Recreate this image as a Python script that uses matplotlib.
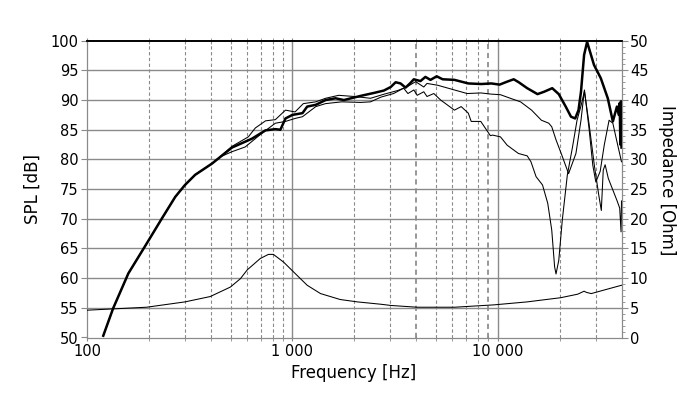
import matplotlib
matplotlib.use("Agg")
import matplotlib.pyplot as plt
from matplotlib.ticker import FixedLocator, NullFormatter, MultipleLocator

# ---------------- data ----------------
freq_on = [120, 134, 159, 195, 231, 269, 300, 336, 406, 508, 636, 740, 826, 874, 925,
           1000, 1120, 1180, 1300, 1450, 1620, 1780, 2147, 2492, 2787, 3010, 3180, 3360,
           3555, 3760, 3900, 4200, 4440, 4700, 5040, 5390, 6150, 7180, 8300, 9300, 10200,
           11100, 11950, 12640, 13900, 15600, 16800, 18400, 19800, 21400, 22700, 23800,
           24700, 25400, 26300, 27200, 27800, 29400, 31700, 34300, 36300, 38000, 38800,
           39200, 39500, 39800, 40000]
spl_on = [50.3, 54.9, 60.8, 65.8, 70.0, 73.7, 75.7, 77.4, 79.3, 82.0, 83.5, 84.9, 85.1, 85.0, 86.9,
          87.5, 87.8, 88.9, 89.2, 90.0, 90.3, 90.0, 90.7, 91.2, 91.6, 92.2, 93.0, 92.8,
          92.1, 92.9, 93.5, 93.2, 93.9, 93.4, 94.0, 93.5, 93.4, 92.8, 92.7, 92.8, 92.6,
          93.1, 93.5, 93.0, 92.0, 91.0, 91.4, 92.0, 91.0, 88.9, 87.2, 86.9,
          88.3, 91.4, 97.6, 99.8, 98.7, 95.9, 93.7, 90.3, 86.4, 88.9, 87.5,
          89.5, 82.5, 89.8, 82.0]

freq_a = [120, 134, 159, 195, 231, 269, 300, 336, 406, 508, 610, 660, 740, 826, 925,
          1030, 1130, 1300, 1450, 1680, 2000, 2400, 2800, 3250, 3600, 3980, 4360, 4520,
          5090, 6150, 7090, 8260, 9300, 10300, 11500, 12900, 14600, 16300, 17700, 18300,
          19200, 20500, 22100, 24000, 25400, 26400, 27800, 29000, 30000, 31500, 33000,
          34800, 36300, 38000, 40000]
spl_a = [50.3, 54.9, 60.8, 65.8, 70.0, 73.7, 75.7, 77.4, 79.3, 82.2, 83.8, 85.3, 86.5, 86.7, 88.3,
         88.0, 89.4, 89.7, 90.3, 90.8, 90.6, 90.3, 91.0, 91.6, 92.2, 93.1, 92.2, 92.8,
         92.5, 91.7, 91.1, 91.2, 91.0, 90.9, 90.3, 89.7, 88.3, 86.6, 86.1, 85.5,
         83.3, 80.7, 77.6, 81.0, 86.6, 91.7, 85.2, 79.0, 76.2, 78.0, 82.5,
         86.6, 86.1, 83.0, 79.6]

freq_b = [120, 134, 159, 195, 231, 269, 300, 336, 406, 450, 508, 589, 710, 826, 925,
          1030, 1120, 1300, 1450, 1740, 2150, 2400, 2700, 3110, 3480, 3650, 3900, 4050,
          4360, 4520, 4880, 5270, 6150, 6630, 7180, 7420, 8260, 9200, 9420, 10300, 11100,
          12600, 13900, 14500, 15350, 16500, 17500, 18300, 18900, 19200, 19800, 20600,
          21800, 23100, 24300, 25400, 26400, 27800, 29500, 31000, 31900, 32600, 33300,
          34500, 38000, 39200, 39800, 40000]
spl_b = [50.3, 54.9, 60.8, 65.8, 70.0, 73.7, 75.7, 77.4, 79.3, 80.5, 81.3, 82.1, 84.4, 86.1, 86.4,
         86.9, 87.2, 88.9, 89.4, 89.7, 89.6, 89.7, 90.5, 91.1, 92.0, 91.1, 91.7, 90.8,
         91.4, 90.6, 91.1, 90.0, 88.3, 88.9, 87.8, 86.4, 86.4, 84.0, 84.1, 83.8, 82.4,
         81.0, 80.6, 79.6, 77.1, 75.7, 72.6, 68.1, 61.9, 60.7, 63.0, 69.8,
         77.4, 82.1, 86.6, 89.0, 91.5, 86.0, 79.0, 74.0, 71.4, 78.2, 79.1,
         76.8, 73.1, 71.8, 67.8, 73.0]

freq_z = [100, 195, 300, 398, 499, 558, 603, 697, 764, 808, 906, 1016, 1180, 1370, 1708,
          2070, 2700, 3010, 4050, 6150, 9600, 13900, 20200, 24500, 26300, 27000, 28500, 40000]
imp_z = [4.6, 5.1, 6.0, 6.9, 8.5, 9.9, 11.4, 13.3, 14.0, 14.0, 12.7, 11.0, 8.8, 7.4, 6.4,
         6.0, 5.6, 5.4, 5.1, 5.1, 5.5, 6.0, 6.7, 7.3, 7.8, 7.6, 7.4, 8.8]

x_major = [100, 1000, 10000]
x_major_labels = ["100", "1 000", "10 000"]
x_minor = [200, 300, 400, 500, 600, 700, 800, 900,
           2000, 3000, 4000, 5000, 6000, 7000, 8000, 9000, 20000, 30000]
x_bold_minor = [4000, 9000]

# ---------------- figure ----------------
W, H = 700, 399
fig = plt.figure(figsize=(W / 100, H / 100), dpi=100)
L, R, T, B = 87, 621.5, 40.7, 337.5
ax = fig.add_axes([L / W, 1 - B / H, (R - L) / W, (B - T) / H])
ax2 = ax.twinx()

GRAY = "#8a8a8a"

ax.set_xscale("log")
ax.set_xlim(100, 40000)
ax.set_ylim(50, 100)
ax2.set_ylim(0, 50)

ax.xaxis.set_major_locator(FixedLocator(x_major))
ax.set_xticklabels(x_major_labels)
ax.xaxis.set_minor_locator(FixedLocator(x_minor))
ax.xaxis.set_minor_formatter(NullFormatter())
ax.yaxis.set_major_locator(MultipleLocator(5))
ax2.yaxis.set_major_locator(MultipleLocator(5))
ax2.yaxis.set_minor_locator(MultipleLocator(1))

# grid
for yv in range(55, 100, 5):
    ax.axhline(yv, color=GRAY, lw=1.0, zorder=0)
for xv in x_major[1:]:
    ax.axvline(xv, color=GRAY, lw=1.0, zorder=0)
for xv in x_minor:
    lw = 1.25 if xv in x_bold_minor else 0.8
    ax.axvline(xv, color=GRAY, lw=lw, ls=(0, (3.0, 2.2)), zorder=0)

# curves
ax.plot(freq_b, spl_b, color="black", lw=0.75, zorder=3)
ax.plot(freq_a, spl_a, color="black", lw=0.75, zorder=3)
ax.plot(freq_on, spl_on, color="black", lw=1.8, zorder=4)
ax2.plot(freq_z, imp_z, color="black", lw=0.75, zorder=3)

# spines / ticks
for s in ["left", "bottom", "right"]:
    ax.spines[s].set_color(GRAY)
    ax2.spines[s].set_color(GRAY)
ax.spines["top"].set_color("black")
ax2.spines["top"].set_color("black")
ax.spines["top"].set_linewidth(1.2)
ax2.spines["top"].set_linewidth(1.2)

ax.tick_params(axis="x", which="both", direction="inout", length=5, color=GRAY,
               top=True, labelsize=10.5, pad=2, labelcolor="black")
ax.tick_params(axis="y", which="major", direction="out", length=4, color=GRAY,
               labelsize=10.5, pad=2, labelcolor="black")
ax2.tick_params(axis="y", which="major", direction="out", length=4, color=GRAY,
                labelsize=10.5, pad=2, labelcolor="black")
ax2.tick_params(axis="y", which="minor", direction="out", length=2.5, color=GRAY)

fig.text(33 / W, 1 - 189 / H, "SPL [dB]", rotation=90, ha="center", va="center", fontsize=12)
fig.text(667 / W, 1 - 180 / H, "Impedance [Ohm]", rotation=270, ha="center", va="center", fontsize=12)
fig.text(354 / W, 1 - 373 / H, "Frequency [Hz]", ha="center", va="center", fontsize=12)

fig.savefig("out.png", dpi=100)
